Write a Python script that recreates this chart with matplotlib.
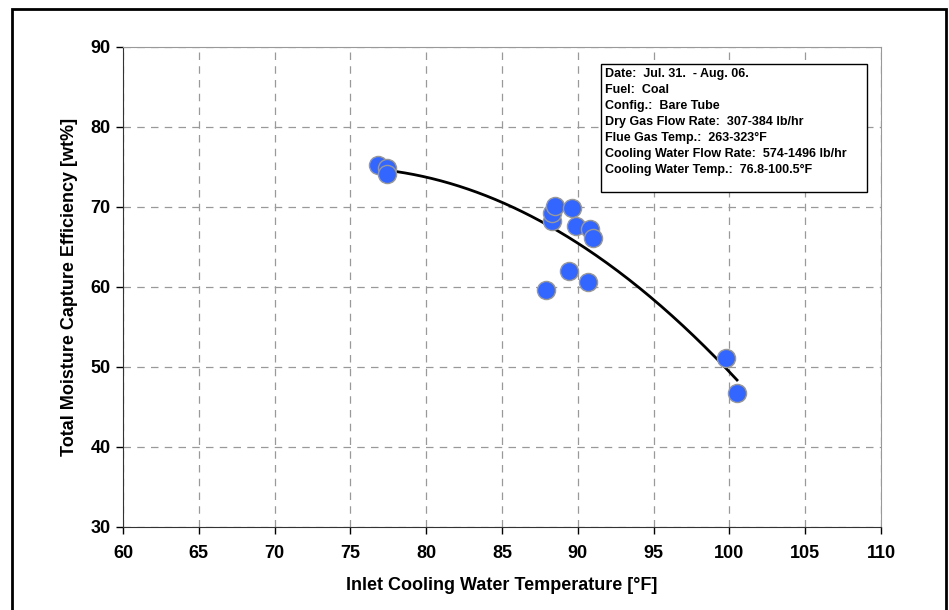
import numpy as np
import matplotlib.pyplot as plt
from matplotlib.patches import Rectangle

plt.rcParams['font.family'] = ['Liberation Sans', 'DejaVu Sans']
plt.rcParams['font.weight'] = 'bold'

inlet_temp = [76.8, 77.4, 77.4, 88.3, 88.3, 88.5, 89.6, 89.9, 90.8, 91.0,
              89.4, 87.9, 90.7, 99.8, 100.5]
capture_eff = [75.3, 74.9, 74.1, 68.3, 69.3, 70.1, 69.9, 67.6, 67.3, 66.1,
               62.0, 59.6, 60.6, 51.1, 46.7]

x_ticks = [60, 65, 70, 75, 80, 85, 90, 95, 100, 105, 110]
y_ticks = [30, 40, 50, 60, 70, 80, 90]

info_lines = [
    "Date:  Jul. 31.  - Aug. 06.",
    "Fuel:  Coal",
    "Config.:  Bare Tube",
    "Dry Gas Flow Rate:  307-384 lb/hr",
    "Flue Gas Temp.:  263-323\u00b0F",
    "Cooling Water Flow Rate:  574-1496 lb/hr",
    "Cooling Water Temp.:  76.8-100.5\u00b0F",
]

fig = plt.figure(figsize=(9.49, 6.10), dpi=100)
ax = fig.add_axes([0.1296, 0.1361, 0.7988, 0.787])

# 2nd order trend line through the data
coef = np.polyfit(inlet_temp, capture_eff, 2)
xx = np.linspace(min(inlet_temp), max(inlet_temp), 200)
ax.plot(xx, np.polyval(coef, xx), color='black', lw=2, zorder=2)

ax.scatter(inlet_temp, capture_eff, s=170, color='#3366FF',
           edgecolor='#999999', linewidth=1.0, zorder=3)

ax.set_xlim(60, 110)
ax.set_ylim(30, 90)
ax.set_xticks(x_ticks)
ax.set_yticks(y_ticks)
ax.grid(True, color='#999999', linestyle=(0, (6, 5)), linewidth=0.9)
ax.set_axisbelow(True)
ax.tick_params(direction='out', length=5, width=1, labelsize=13)
ax.tick_params(axis='x', pad=8)
ax.tick_params(axis='y', pad=4)
for lab in ax.get_xticklabels() + ax.get_yticklabels():
    lab.set_fontweight('bold')

for side in ['top', 'right']:
    ax.spines[side].set_color('#999999')
for side in ['left', 'bottom']:
    ax.spines[side].set_color('#333333')

ax.set_xlabel("Inlet Cooling Water Temperature [\u00b0F]", fontsize=13,
              fontweight='bold', labelpad=11)
ax.set_ylabel("Total Moisture Capture Efficiency [wt%]", fontsize=13,
              fontweight='bold', labelpad=9)

# info box
ax.add_patch(Rectangle((0.6306, 0.698), 0.351, 0.2666, transform=ax.transAxes,
                       facecolor='white', edgecolor='black', lw=1, zorder=4))
ax.text(0.636, 0.957, "\n".join(info_lines), transform=ax.transAxes,
        ha='left', va='top', fontsize=9, fontweight='bold',
        linespacing=1.45, zorder=5)

# outer frame
fig.patches.append(Rectangle((12 / 949, -0.01), 934 / 949, 1 - 9 / 610 + 0.01,
                             transform=fig.transFigure, fill=False,
                             edgecolor='black', lw=2, clip_on=False))

fig.savefig("out.png", dpi=100)
